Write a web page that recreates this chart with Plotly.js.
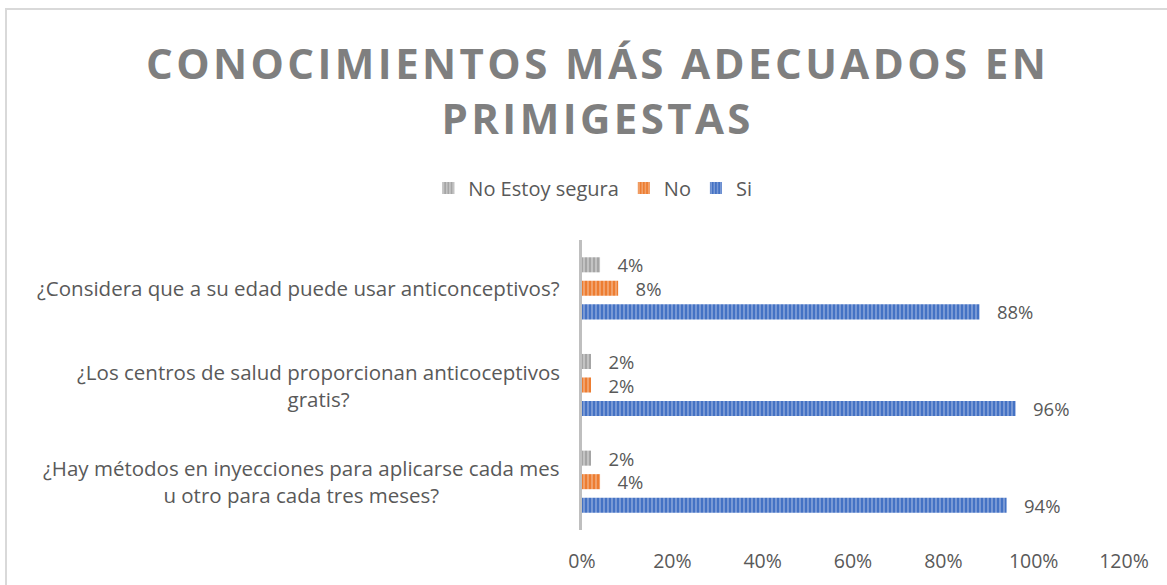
<!DOCTYPE html>
<html>
<head>
<meta charset="utf-8">
<script src="https://cdn.plot.ly/plotly-3.0.1.min.js"></script>
<style>
html,body{margin:0;padding:0;background:#fff;}
#chart{width:1167px;height:585px;}
#chart .annotation[data-index="0"] text{letter-spacing:3.4px;}
</style>
</head>
<body>
<div id="chart"></div>
<script>
// Data (bottom to top in Plotly category order)
const categories = [
  "¿Hay métodos en inyecciones para aplicarse cada mes<br>u otro para cada tres meses?",
  "¿Los centros de salud proporcionan anticoceptivos<br>gratis?",
  "¿Considera que a su edad puede usar anticonceptivos?"
];
const seriesNames = ["Si", "No", "No Estoy segura"];
const siValues = [0.94, 0.96, 0.88];
const noValues = [0.04, 0.02, 0.08];
const noSeguraValues = [0.02, 0.02, 0.04];
const xTickValues = [0, 0.2, 0.4, 0.6, 0.8, 1.0, 1.2];
const xTickLabels = ["0%", "20%", "40%", "60%", "80%", "100%", "120%"];
const titleText = "CONOCIMIENTOS MÁS ADECUADOS EN<br>PRIMIGESTAS";

const FONT = "'Open Sans', sans-serif";
const TXT = "#595959";

function mk(name, vals, base, light) {
  return {
    type: "bar", orientation: "h", name: name,
    y: categories, x: vals,
    marker: {
      color: base,
      line: {width: 0},
      pattern: {shape: "|", fgcolor: light, bgcolor: base, size: 4, solidity: 0.35, fillmode: "replace"}
    },
    texttemplate: "\u00a0\u00a0\u00a0%{x:.0%}",
    textposition: "outside",
    constraintext: "none",
    textfont: {family: FONT, size: 18.5, color: TXT},
    cliponaxis: false,
    hoverinfo: "skip"
  };
}

const data = [
  mk(seriesNames[0], siValues, "#4472c4", "#8fa9dc"),
  mk(seriesNames[1], noValues, "#ed7d31", "#f4b183"),
  mk(seriesNames[2], noSeguraValues, "#a5a5a5", "#d0d0d0")
];

const annotations = [{
  xref: "paper", yref: "paper", x: (597 - 582) / 542, y: (530 - 90) / 290,
  xanchor: "center", yanchor: "middle", text: titleText, align: "center", showarrow: false,
  font: {family: FONT, size: 42, color: "#7f7f7f", weight: 700}
}].concat(categories.map(c => ({
  xref: "paper", yref: "y", x: 0, y: c, xanchor: "right", yanchor: "middle",
  xshift: -20, text: c, align: "center", showarrow: false,
  font: {family: FONT, size: 20.5, color: TXT}
})));

const layout = {
  width: 1167, height: 585,
  margin: {l: 582, r: 43, t: 240, b: 55},
  paper_bgcolor: "#ffffff", plot_bgcolor: "#ffffff",
  barmode: "group", bargap: 0.27, bargroupgap: 0.36,
  showlegend: true,
  legend: {
    orientation: "h", traceorder: "reversed",
    xref: "container", x: 0.508, xanchor: "center",
    yref: "container", y: 1 - 188/585, yanchor: "middle",
    font: {family: FONT, size: 20, color: TXT},
    itemwidth: 30
  },
  xaxis: {
    range: [0, 1.2], tickvals: xTickValues, ticktext: xTickLabels,
    showgrid: false, zeroline: false, showline: false, ticks: "",
    ticklabelstandoff: 17,
    tickfont: {family: FONT, size: 19.5, color: TXT}
  },
  yaxis: {
    type: "category", categoryorder: "array", categoryarray: categories,
    showticklabels: false, showgrid: false, zeroline: false,
    showline: true, linecolor: "#bfbfbf", linewidth: 3, ticks: ""
  },
  annotations: annotations,
  shapes: [{
    type: "rect", xref: "paper", yref: "paper",
    x0: (6 - 582) / 542, x1: (1175 - 582) / 542,
    y0: (530 - 600) / 290, y1: (530 - 9) / 290,
    line: {color: "#d9d9d9", width: 2}, fillcolor: "rgba(0,0,0,0)", layer: "below"
  }]
};

Plotly.newPlot("chart", data, layout, {staticPlot: true});
</script>
</body>
</html>
